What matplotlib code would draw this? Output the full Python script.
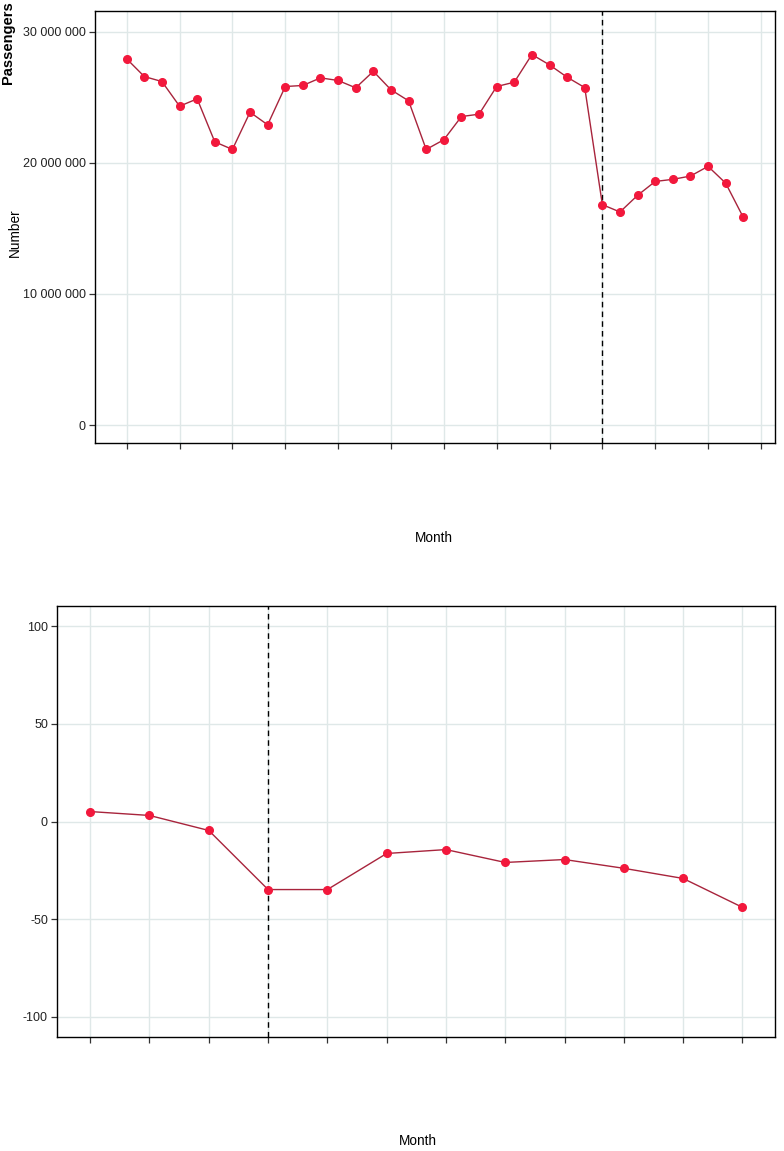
import matplotlib
matplotlib.use("Agg")
import matplotlib.pyplot as plt
import numpy as np

plt.rcParams['font.family'] = ['Liberation Sans', 'DejaVu Sans']

# Top panel: monthly numbers (36 months)
top_values = [27.93, 26.58, 26.20, 24.32, 24.88, 21.60, 21.02, 23.86, 22.90,
              25.82, 25.90, 26.48, 26.28, 25.72, 26.98, 25.57, 24.73, 21.02,
              21.76, 23.53, 23.71, 25.82, 26.15, 28.26, 27.47, 26.53, 25.74,
              16.81, 16.25, 17.52, 18.58, 18.74, 18.99, 19.73, 18.45, 15.84]
top_values = [v * 1e6 for v in top_values]
top_event_index = 27
top_yticks = [0, 10000000, 20000000, 30000000]
top_ytick_labels = ["0", "10 000 000", "20 000 000", "30 000 000"]

# Bottom panel: percent change (12 months)
bottom_values = [5.1, 3.1, -4.6, -34.9, -34.9, -16.4, -14.4, -21.0, -19.5,
                 -24.0, -29.2, -44.0]
bottom_event_index = 3
bottom_yticks = [-100, -50, 0, 50, 100]
bottom_ytick_labels = ["-100", "-50", "0", "50", "100"]

line_color = "#a8243c"
marker_color = "#f2183c"
grid_color = "#dfe8e8"

fig = plt.figure(figsize=(7.84, 11.51), dpi=100)

W, H = 784, 1151
def ax_rect(l, t, r, b):
    return [l / W, 1 - b / H, (r - l) / W, (b - t) / H]

ax1 = fig.add_axes(ax_rect(95, 11, 775, 443))
ax2 = fig.add_axes(ax_rect(57, 606, 775, 1037))

def style(ax):
    for s in ax.spines.values():
        s.set_color("black")
        s.set_linewidth(1.0)
    ax.tick_params(axis='both', length=4.5, width=0.9, color="#333333",
                   labelsize=9, labelcolor="#222222", pad=2)
    ax.grid(True, color=grid_color, linewidth=1.0)
    ax.set_axisbelow(True)

# Top
x1 = np.arange(len(top_values))
ax1.plot(x1, top_values, color=line_color, linewidth=1.0, zorder=3)
ax1.plot(x1, top_values, 'o', color=marker_color, markersize=5.5, zorder=4)
ax1.axvline(top_event_index, color="black", linestyle=(0, (4, 3)), linewidth=1.0, zorder=2)
ax1.set_xlim(-1.8, 36.8)
ax1.set_ylim(-1.37e6, 31.58e6)
ax1.set_xticks(np.arange(0, 37, 3))
ax1.set_xticklabels([""] * len(np.arange(0, 37, 3)))
ax1.set_yticks(top_yticks)
ax1.set_yticklabels(top_ytick_labels)
style(ax1)
fig.text(15 / W, 1 - 233 / H, "Number", rotation=90, ha="center", va="center", fontsize=9.8)
fig.text(434 / W, 1 - 538 / H, "Month", ha="center", va="center", fontsize=9.8)

# Bottom
x2 = np.arange(len(bottom_values))
ax2.plot(x2, bottom_values, color=line_color, linewidth=1.0, zorder=3)
ax2.plot(x2, bottom_values, 'o', color=marker_color, markersize=5.5, zorder=4)
ax2.axvline(bottom_event_index, color="black", linestyle=(0, (4, 3)), linewidth=1.0, zorder=2)
ax2.set_xlim(-0.56, 11.55)
ax2.set_ylim(-110.5, 110.5)
ax2.set_xticks(x2)
ax2.set_xticklabels([""] * len(x2))
ax2.set_yticks(bottom_yticks)
ax2.set_yticklabels(bottom_ytick_labels)
style(ax2)
fig.text(418 / W, 1 - 1141 / H, "Month", ha="center", va="center", fontsize=9.8)

# Dense rotated legend text at top-left
fig.text(1 / W, 1 - 1 / H, "Passengers", rotation=90, ha="left", va="top",
         fontsize=10.5, fontweight="heavy", color="black")

fig.savefig("out.png", dpi=100)
